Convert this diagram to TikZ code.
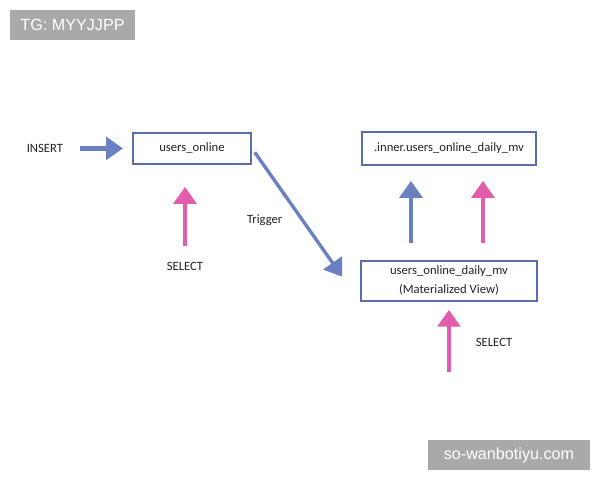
\documentclass[tikz,border=0pt]{standalone}
\usepackage{fontspec}
\setmainfont{Carlito}
\newfontfamily\tagfont{Liberation Sans}
\usepackage{tikz}
\usetikzlibrary{arrows.meta, positioning, calc}
\usepackage{xcolor}
\definecolor{tblblue}{HTML}{5B6DAE}
\definecolor{arrblue}{HTML}{6B80C2}
\definecolor{arrpink}{HTML}{E25DAC}
\definecolor{txtgray}{HTML}{222222}
\definecolor{taggray}{HTML}{A9A9A9}

\begin{document}
\begin{tikzpicture}[node distance=1.2cm, auto, >={Triangle[width=16pt,length=12pt]},
    tblbox/.style={draw=tblblue, line width=1.4pt, rectangle, align=center, text=txtgray, font=\fontsize{9}{13.5}\selectfont},
    lbl/.style={text=txtgray, font=\fontsize{9}{11}\selectfont},
    bluearr/.style={->, arrblue, line width=3pt},
    pinkarr/.style={->, arrpink, line width=3pt},
    tag/.style={fill=taggray, text=white, font=\tagfont\fontsize{11.5}{13}\selectfont}]
      \useasboundingbox (0,0) rectangle (15,12);

      % Tables
      \node [tblbox, minimum width=2.95cm, minimum height=0.775cm] (users) at (4.8,8.29) {users\_online};
      \node [tblbox, minimum width=4.35cm, minimum height=0.825cm, right=2.725cm of users] (inner) {.inner.users\_online\_daily\_mv};
      \node [tblbox, minimum width=4.4cm, minimum height=1cm, below=2.35cm of inner] (mv) {users\_online\_daily\_mv\\(Materialized View)};

      % Labels
      \node [lbl, left=1.6cm of users] (insert) {INSERT};
      \node [lbl, below=2.3cm of users, xshift=-0.175cm] (select1) {SELECT};
      \coordinate [below=1.75cm of mv.south] (feed);
      \node [lbl, above right=0.5cm and 0.55cm of feed] (select2) {SELECT};

      % Arrows
      \draw [bluearr, shorten <=0.3cm, shorten >=0.225cm] (insert.east) -- (users.west);
      \draw [pinkarr, shorten <=0.275cm, shorten >=0.55cm] (select1.north) -- (select1.north |- users.south);
      \draw [bluearr, line width=2.4pt, shorten <=0.12cm, shorten >=0.77cm] (users.east) -- node [lbl, pos=0.47, left=0.35cm] (trigger) {Trigger} (mv.south west);
      \draw [bluearr, shorten <=0.425cm, shorten >=0.375cm] ($(inner.south |- mv.north)+(-0.95,0)$) -- ($(inner.south)+(-0.95,0)$);
      \draw [pinkarr, shorten <=0.425cm, shorten >=0.375cm] ($(inner.south |- mv.north)+(0.85,0)$) -- ($(inner.south)+(0.85,0)$);
      \draw [pinkarr, shorten >=0.2cm] (feed) -- (mv.south);

      % Tags
      \node [tag, minimum width=3.125cm, minimum height=0.75cm] (tgtag) at (1.8125,11.375) {TG: MYYJJPP};
      \node [tag, minimum width=4.05cm, minimum height=0.75cm] (sitetag) at (12.725,0.625) {so-wanbotiyu.com};
    \end{tikzpicture}
\end{document}
